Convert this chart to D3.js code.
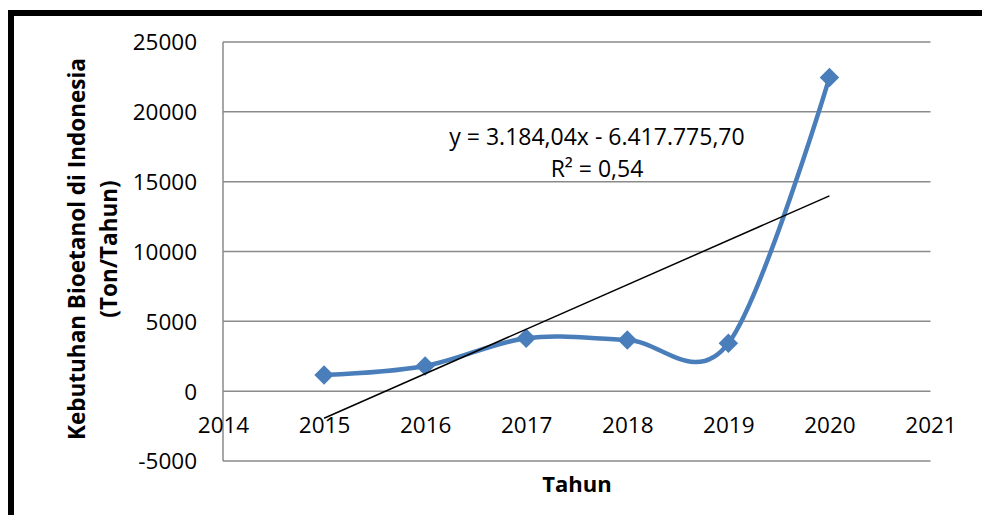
<!DOCTYPE html>
<html>
<head>
<meta charset="utf-8">
<script src="https://cdn.jsdelivr.net/npm/d3@7"></script>
<style>
  html, body { margin: 0; padding: 0; background: #fff; }
  svg { display: block; font-family: "Open Sans", "DejaVu Sans", sans-serif; }
</style>
</head>
<body>
<svg id="chart" width="982" height="515"></svg>
<script>
// Data
const years   = [2015, 2016, 2017, 2018, 2019, 2020];
const demand  = [1160, 1800, 3790, 3670, 3430, 22450];
const xTicks  = [2014, 2015, 2016, 2017, 2018, 2019, 2020, 2021];
const yTicks  = [-5000, 0, 5000, 10000, 15000, 20000, 25000];
const trendSlope = 3184.04, trendIntercept = -6417775.70;
const eqLines = ["y = 3.184,04x - 6.417.775,70", "R\u00B2 = 0,54"];
const yTitle  = ["Kebutuhan Bioetanol di Indonesia", "(Ton/Tahun)"];
const xTitle  = "Tahun";

const svg = d3.select("#chart");

// Palette
const cBlue = "#4a7ebb";
const cGrid = "#8a8a8a";
const cText = "#000";

// plain hyphen minus, like the source chart
const fmt = d => String(d);

// Plot area
const plot = { left: 223, right: 930.5, top: 42, bottom: 461 };
const x = d3.scaleLinear().domain([2014, 2021]).range([plot.left, plot.right]);
const y = d3.scaleLinear().domain([-5000, 25000]).range([plot.bottom, plot.top]);

// outer frame (runs off the picture on the right and bottom)
svg.append("rect")
  .attr("x", 11).attr("y", 13).attr("width", 1000).attr("height", 600)
  .attr("fill", "#fff").attr("stroke", "#000").attr("stroke-width", 6);

/* ===== grid + axes ===== */
const grid = svg.append("g");
grid.selectAll("line.h").data(yTicks).join("line")
  .attr("x1", plot.left).attr("x2", plot.right)
  .attr("y1", d => y(d)).attr("y2", d => y(d))
  .attr("stroke", cGrid).attr("stroke-width", 1.5);

grid.append("line")
  .attr("x1", plot.left).attr("x2", plot.left)
  .attr("y1", y(25000)).attr("y2", y(-5000))
  .attr("stroke", cGrid).attr("stroke-width", 1.5);

const yAxis = d3.axisLeft(y).tickValues(yTicks).tickSize(0).tickPadding(26).tickFormat(fmt);
svg.append("g").attr("transform", `translate(${plot.left},0)`).call(yAxis)
  .call(g => g.select(".domain").remove())
  .call(g => g.selectAll("text").attr("font-size", 22.5).attr("fill", cText)
    .attr("font-family", "Open Sans, sans-serif").attr("dy", "0.35em"));

const xAxis = d3.axisBottom(x).tickValues(xTicks).tickSize(0).tickPadding(0).tickFormat(fmt);
svg.append("g").attr("transform", `translate(0,${y(0)})`).call(xAxis)
  .call(g => g.select(".domain").remove())
  .call(g => g.selectAll("text").attr("font-size", 22.5).attr("fill", cText)
    .attr("font-family", "Open Sans, sans-serif").attr("dy", null).attr("y", 42));

/* ===== series ===== */
const pts = years.map((yr, i) => [yr, demand[i]]);

const line = d3.line().x(d => x(d[0])).y(d => y(d[1])).curve(d3.curveCardinal.tension(0));
svg.append("path").datum(pts)
  .attr("d", line).attr("fill", "none")
  .attr("stroke", cBlue).attr("stroke-width", 4.5).attr("stroke-linejoin", "round");

const diamond = d3.symbol().type(d3.symbolSquare).size(190);
svg.selectAll("path.mk").data(pts).join("path")
  .attr("class", "mk")
  .attr("d", diamond)
  .attr("transform", d => `translate(${x(d[0])},${y(d[1])}) rotate(45)`)
  .attr("fill", cBlue);

// linear trendline
const tEnds = [years[0], years[years.length - 1]];
svg.append("line")
  .attr("x1", x(tEnds[0])).attr("y1", y(trendSlope * tEnds[0] + trendIntercept))
  .attr("x2", x(tEnds[1])).attr("y2", y(trendSlope * tEnds[1] + trendIntercept))
  .attr("stroke", "#000").attr("stroke-width", 1.5);

// equation label
svg.append("g").selectAll("text").data(eqLines).join("text")
  .attr("x", 597).attr("y", (d, i) => 145 + i * 32)
  .attr("text-anchor", "middle").attr("font-size", 23).attr("fill", cText)
  .text(d => d);

/* ===== titles ===== */
svg.append("text")
  .attr("x", 577).attr("y", 492)
  .attr("text-anchor", "middle").attr("font-size", 22).attr("font-weight", "bold").attr("fill", cText)
  .text(xTitle);

svg.append("g").attr("transform", "translate(0,249) rotate(-90)")
  .selectAll("text").data(yTitle).join("text")
  .attr("x", 0).attr("y", (d, i) => 85 + i * 32)
  .attr("text-anchor", "middle").attr("font-size", 22.5).attr("font-weight", "bold").attr("fill", cText)
  .text(d => d);
</script>
</body>
</html>
